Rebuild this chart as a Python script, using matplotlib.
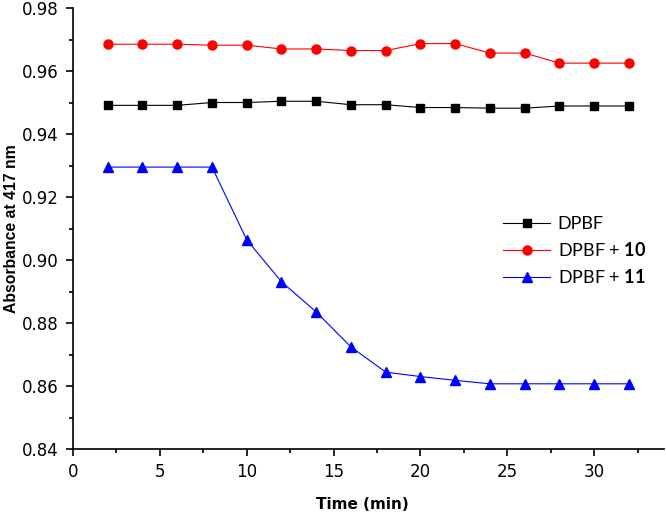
import matplotlib
matplotlib.use("Agg")
import matplotlib.pyplot as plt
from matplotlib.ticker import MultipleLocator, FormatStrFormatter

plt.rcParams['font.family'] = ['DejaVu Sans']
plt.rcParams['mathtext.fontset'] = 'custom'
plt.rcParams['mathtext.rm'] = 'Lato'
plt.rcParams['mathtext.bf'] = 'Lato:bold'

time = [2, 4, 6, 8, 10, 12, 14, 16, 18, 20, 22, 24, 26, 28, 30, 32]
dpbf = [0.9491, 0.9491, 0.9491, 0.9500, 0.9500, 0.9504, 0.9504, 0.9493, 0.9493,
        0.9484, 0.9484, 0.9482, 0.9482, 0.9489, 0.9489, 0.9489]
dpbf_10 = [0.9685, 0.9685, 0.9685, 0.9682, 0.9682, 0.9670, 0.9670, 0.9665, 0.9665,
           0.9687, 0.9687, 0.9657, 0.9657, 0.9625, 0.9625, 0.9625]
dpbf_11 = [0.9295, 0.9295, 0.9295, 0.9295, 0.9064, 0.8931, 0.8835, 0.8724, 0.8644,
           0.8630, 0.8618, 0.8607, 0.8607, 0.8607, 0.8607, 0.8607]
labels = ['DPBF', 'DPBF + $\\mathbf{10}$', 'DPBF + $\\mathbf{11}$']
xticks = [0, 5, 10, 15, 20, 25, 30]

fig = plt.figure(figsize=(6.66, 5.17), dpi=100)
ax = fig.add_axes([0.1096, 0.1315, 0.887, 0.853])

ax.plot(time, dpbf, color='black', lw=0.8, marker='s', ms=6, label=labels[0])
ax.plot(time, dpbf_10, color='red', lw=0.8, marker='o', ms=6.5, label=labels[1])
ax.plot(time, dpbf_11, color='blue', lw=0.8, marker='^', ms=7.5, label=labels[2])

ax.set_xlim(0, 34)
ax.set_ylim(0.84, 0.98)
ax.set_xticks(xticks)
ax.xaxis.set_minor_locator(MultipleLocator(2.5))
ax.yaxis.set_major_locator(MultipleLocator(0.02))
ax.yaxis.set_minor_locator(MultipleLocator(0.01))
ax.yaxis.set_major_formatter(FormatStrFormatter('%.2f'))

for s in ['top', 'right']:
    ax.spines[s].set_visible(False)
for s in ['left', 'bottom']:
    ax.spines[s].set_linewidth(1.2)
ax.tick_params(which='major', direction='out', length=5, width=1.2, labelsize=12, pad=5)
ax.tick_params(which='minor', direction='out', length=3, width=1.2)

ax.set_xlabel('Time (min)', fontsize=11, fontweight='bold', family='DejaVu Sans')
ax.xaxis.set_label_coords(0.49, -0.109)
ax.set_ylabel('Absorbance at 417 nm', fontsize=11.3, fontweight='bold', family='Liberation Sans')
ax.yaxis.set_label_coords(-0.092, 0.5)

leg = ax.legend(loc='upper left', bbox_to_anchor=(0.715, 0.545), frameon=False,
                prop={'family': 'Lato', 'size': 13}, handlelength=2.65,
                labelspacing=0.5, handletextpad=0.4, borderaxespad=0.0)

fig.savefig('out.png', dpi=100)
